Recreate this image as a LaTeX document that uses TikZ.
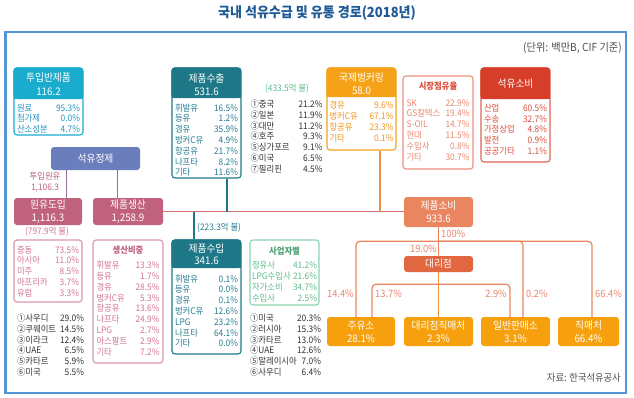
\documentclass[tikz,border=0pt]{standalone}
\usepackage{fontspec}
\setmainfont{Noto Sans CJK KR}[FakeStretch=0.93]
\usetikzlibrary{positioning}

\definecolor{framec}{RGB}{84,150,212}
\definecolor{titlec}{RGB}{30,90,150}
\definecolor{cyanc}{RGB}{25,172,206}
\definecolor{cyantx}{RGB}{35,150,195}
\definecolor{tealc}{RGB}{30,120,135}
\definecolor{tealtx}{RGB}{40,125,145}
\definecolor{orangec}{RGB}{245,162,25}
\definecolor{orangetx}{RGB}{240,150,30}
\definecolor{redc}{RGB}{214,62,42}
\definecolor{redbd}{RGB}{225,100,85}
\definecolor{redtx}{RGB}{220,80,60}
\definecolor{salmc}{RGB}{233,134,96}
\definecolor{salmbd}{RGB}{236,145,125}
\definecolor{salmtx}{RGB}{236,135,112}
\definecolor{daeric}{RGB}{226,102,64}
\definecolor{yelc}{RGB}{245,160,12}
\definecolor{slatec}{RGB}{106,126,190}
\definecolor{rosec}{RGB}{192,98,126}
\definecolor{rosebd}{RGB}{218,150,172}
\definecolor{rosetx}{RGB}{210,118,148}
\definecolor{mintbd}{RGB}{140,212,178}
\definecolor{minttx}{RGB}{95,188,140}
\definecolor{graytx}{RGB}{80,80,80}

\begin{document}
\begin{tikzpicture}[x=1pt,y=-1pt,
  hdrtxt/.style={text=white,font=\fontsize{10.5}{13.5}\selectfont,align=center,inner sep=0pt},
  itm/.style={font=\fontsize{9}{10.8}\selectfont,inner sep=0pt,align=left},
  ttl/.style={font=\bfseries\fontsize{9}{10}\selectfont,inner sep=0pt},
  pct/.style={font=\fontsize{10}{12}\selectfont,text=salmtx,inner sep=0pt},
  usd/.style={font=\fontsize{9}{10}\selectfont,inner sep=0pt},
  outbox/.style={rounded corners=3pt,line width=1.1pt,fill=white,inner sep=0pt},
  fillbox/.style={rounded corners=3pt,inner sep=0pt,text=white,align=center,
    font=\fontsize{10.5}{13}\selectfont},
  conn/.style={line width=1.2pt}]
\useasboundingbox (0,0) rectangle (634,397);
\fill[white] (0,0) rectangle (634,397);

\node[font=\bfseries\fontsize{14}{16}\selectfont,text=titlec] (title) at (317,13) {국내 석유수급 및 유통 경로(2018년)};
\draw[framec,line width=2.6pt] (5.5,32) rectangle (626,393);
\node[anchor=east,font=\fontsize{11}{13}\selectfont,text=graytx,inner sep=0pt] (unit) at (622,48) {(단위: 백만B, CIF 기준)};

% 투입반제품
\node[outbox,draw=cyanc,minimum width=69pt,minimum height=67pt] (bando) at (48.5,101.5) {};
\fill[cyanc,rounded corners=3pt] (bando.north west) rectangle (83,99);
\fill[cyanc] (14,90) rectangle (83,99);
\node[hdrtxt] (bandoT) at (48.5,84) {투입반제품\\116.2};
\node[itm,text=cyantx,text width=63pt] (bandoI) at (48.5,118.5) {원료\hfill 95.3\%\\첨가제\hfill 0.0\%\\산소성분\hfill 4.7\%};

% 제품수출
\node[outbox,draw=tealc,minimum width=69pt,minimum height=110pt] (suchul) at (206.5,123) {};
\fill[tealc,rounded corners=3pt] (suchul.north west) rectangle (241,98);
\fill[tealc] (172,90) rectangle (241,98);
\node[hdrtxt] (suchulT) at (206.5,84.5) {제품수출\\531.6};
\node[itm,text=tealtx,text width=63pt] (suchulI) at (206.5,140) {휘발유\hfill 16.5\%\\등유\hfill 1.2\%\\경유\hfill 35.9\%\\벙커C유\hfill 4.9\%\\항공유\hfill 21.7\%\\나프타\hfill 8.2\%\\기타\hfill 11.6\%};
\node[usd,text=minttx] (usd1) at (287,89) {(433.5억 불)};
\node[itm,text=black!80,text width=72pt] (suchulL) at (286.5,136.5) {①중국\hfill 21.2\%\\②일본\hfill 11.9\%\\③대만\hfill 11.2\%\\④호주\hfill 9.3\%\\⑤싱가포르\hfill 9.1\%\\⑥미국\hfill 6.5\%\\⑦필리핀\hfill 4.5\%};

% 국제벙커링
\node[outbox,draw=orangec,minimum width=69pt,minimum height=82pt] (bunker) at (361.5,109) {};
\fill[orangec,rounded corners=3pt] (bunker.north west) rectangle (396,97);
\fill[orangec] (327,89) rectangle (396,97);
\node[hdrtxt] (bunkerT) at (361.5,83.5) {국제벙커링\\58.0};
\node[itm,text=orangetx,text width=64pt] (bunkerI) at (361.5,121.5) {경유\hfill 9.6\%\\벙커C유\hfill 67.1\%\\항공유\hfill 23.3\%\\기타\hfill 0.1\%};

% 시장점유율
\node[outbox,draw=salmbd,minimum width=70pt,minimum height=93pt] (jumyu) at (438,122.5) {};
\node[ttl,text=redtx] (jumyuT) at (438,86) {시장점유율};
\node[itm,text=salmtx,text width=63pt] (jumyuI) at (438,130) {SK\hfill 22.9\%\\GS칼텍스\hfill 19.4\%\\S-OIL\hfill 14.7\%\\현대\hfill 11.5\%\\수입사\hfill 0.8\%\\기타\hfill 30.7\%};

% 석유소비
\node[outbox,draw=redbd,minimum width=69pt,minimum height=94pt] (sobiO) at (515.5,115) {};
\fill[redc,rounded corners=3pt] (sobiO.north west) rectangle (550,99);
\fill[redc] (481,90) rectangle (550,99);
\node[hdrtxt] (sobiOT) at (515.5,84) {석유소비};
\node[itm,text=redtx,text width=63pt] (sobiOI) at (515.5,129.5) {산업\hfill 60.5\%\\수송\hfill 32.7\%\\가정상업\hfill 4.8\%\\발전\hfill 0.9\%\\공공기타\hfill 1.1\%};

% 정제, 도입, 생산
\node[fillbox,fill=slatec,minimum width=89pt,minimum height=23pt] (jeongje) at (95.5,158.5) {석유정제};
\node[fillbox,fill=rosec,minimum width=68pt,minimum height=27pt] (wonyu) at (48,211.5) {원유도입\\1,116.3};
\node[fillbox,fill=rosec,minimum width=70pt,minimum height=27pt] (saengsan) at (128,211.5) {제품생산\\1,258.9};
\node[font=\fontsize{9}{11}\selectfont,text=rosec,align=center,inner sep=0pt] (tuip) at (45,182.5) {투입원유\\1,106.3};
\node[usd,text=rosetx] (usd3) at (47,232) {(797.9억 불)};

% 원유 도입처
\node[outbox,draw=rosebd,minimum width=68pt,minimum height=62pt] (wonsrc) at (48,271) {};
\node[itm,text=rosetx,text width=62pt] (wonsrcI) at (48,271.5) {중동\hfill 73.5\%\\아시아\hfill 11.0\%\\미주\hfill 8.5\%\\아프리카\hfill 3.7\%\\유럽\hfill 3.3\%};
\node[itm,text=black!80,text width=67pt] (wonsrcL) at (50.5,345) {①사우디\hfill 29.0\%\\②쿠웨이트\hfill 14.5\%\\③이라크\hfill 12.4\%\\④UAE\hfill 6.5\%\\⑤카타르\hfill 5.9\%\\⑥미국\hfill 5.5\%};

% 생산비중
\node[outbox,draw=rosebd,minimum width=70pt,minimum height=123pt] (bijung) at (128,301.5) {};
\node[ttl,text=rosec] (bijungT) at (128,250) {생산비중};
\node[itm,text=rosetx,text width=63pt] (bijungI) at (128,308.5) {휘발유\hfill 13.3\%\\등유\hfill 1.7\%\\경유\hfill 28.5\%\\벙커C유\hfill 5.3\%\\항공유\hfill 13.6\%\\나프타\hfill 24.9\%\\LPG\hfill 2.7\%\\아스팔트\hfill 2.9\%\\기타\hfill 7.2\%};

% 제품수입
\node[outbox,draw=tealc,minimum width=69pt,minimum height=114pt] (suip) at (206.5,297) {};
\fill[tealc,rounded corners=3pt] (suip.north west) rectangle (241,268);
\fill[tealc] (172,260) rectangle (241,268);
\node[hdrtxt,font=\fontsize{10.5}{12}\selectfont] (suipT) at (206.5,254) {제품수입\\341.6};
\node[itm,text=tealtx,text width=63pt] (suipI) at (206.5,311) {휘발유\hfill 0.1\%\\등유\hfill 0.0\%\\경유\hfill 0.1\%\\벙커C유\hfill 12.6\%\\LPG\hfill 23.2\%\\나프타\hfill 64.1\%\\기타\hfill 0.0\%};
\node[usd,text=tealtx,anchor=west] (usd2) at (197,228) {(223.3억 불)};

% 사업자별
\node[outbox,draw=mintbd,minimum width=69pt,minimum height=65pt] (saeop) at (284.5,272.5) {};
\node[ttl,text=minttx!85!black] (saeopT) at (284.5,251) {사업자별};
\node[itm,text=minttx,text width=65pt] (saeopI) at (284.5,281.5) {정유사\hfill 41.2\%\\LPG수입사\hfill 21.6\%\\자가소비\hfill 34.7\%\\수입사\hfill 2.5\%};
\node[itm,text=black!80,text width=71pt] (saeopL) at (285.5,345) {①미국\hfill 20.3\%\\②러시아\hfill 15.3\%\\③카타르\hfill 13.0\%\\④UAE\hfill 12.6\%\\⑤말레이시아\hfill 7.0\%\\⑥사우디\hfill 6.4\%};

% 소비, 대리점, 판매처
\node[fillbox,fill=salmc,minimum width=69pt,minimum height=30pt] (sobi) at (438.5,212) {제품소비\\933.6};
\node[fillbox,fill=daeric,minimum width=69pt,minimum height=16pt] (daeri) at (438.5,264) {대리점};
\node[fillbox,fill=yelc,minimum width=68pt,minimum height=29pt] (jyuso) at (361,331.5) {주유소\\28.1\%};
\node[fillbox,fill=yelc,minimum width=69pt,minimum height=29pt] (daerijik) at (438.5,331.5) {대리점직매처\\2.3\%};
\node[fillbox,fill=yelc,minimum width=69pt,minimum height=29pt] (ilban) at (515.5,331.5) {일반판매소\\3.1\%};
\node[fillbox,fill=yelc,minimum width=61pt,minimum height=29pt] (jikmae) at (588.5,331.5) {직매처\\66.4\%};

% connectors
\coordinate (jdl) at ([xshift=16pt]jeongje.south west);
\coordinate (jdr) at ([xshift=67pt]jeongje.south west);
\coordinate (exd) at ([xshift=20.5pt]suchul.south);
\coordinate (imd) at ([xshift=-12.5pt]suip.north);
\coordinate (bkd) at ([xshift=18.5pt]bunker.south);
\draw[conn,slatec!45!rosec] (jdl) -- (jdl |- wonyu.north);
\draw[conn,slatec!45!rosec] (jdr) -- (jdr |- saengsan.north);
\draw[conn,rosec!60!salmc] (saengsan.east) -- (saengsan.east -| sobi.west);
\draw[conn,tealc] (exd) -- (exd |- saengsan.east);
\draw[conn,tealc] (imd |- saengsan.east) -- (imd);
\draw[conn,salmc!70!orangec] (bkd) -- (bkd |- saengsan.east);

\coordinate (busA) at ([yshift=-14pt]sobi.south);
\coordinate (busB) at ([yshift=-12pt]daeri.south);
\coordinate (dJ) at ([xshift=-5pt]jyuso.north);
\coordinate (dJ2) at ([xshift=11pt]jyuso.north);
\coordinate (dI) at ([xshift=7.5pt]ilban.north);
\coordinate (dI2) at ([xshift=-5.5pt]ilban.north);
\coordinate (dK) at ([xshift=3.5pt]jikmae.north);
\draw[conn,salmc] (sobi.south) -- (daeri.north);
\draw[conn,salmc,rounded corners=4pt] (dJ) |- (busA) -| (dK);
\draw[conn,salmc,rounded corners=4pt] (busA) -| (dI);
\draw[conn,salmc,rounded corners=4pt] (dJ2) |- (busB) -| (dI2);
\draw[conn,salmc!60!yelc] (daeri.south) -- (daerijik.north);

\node[pct,anchor=west] (p100) at (441,234) {100\%};
\node[pct,anchor=east] (p19) at (437,249) {19.0\%};
\node[pct,anchor=east] (p144) at (354,294) {14.4\%};
\node[pct,anchor=west] (p137) at (375,294) {13.7\%};
\node[pct,anchor=east] (p29) at (507,294) {2.9\%};
\node[pct,anchor=west] (p02) at (526,294) {0.2\%};
\node[pct,anchor=west] (p664) at (595,294) {66.4\%};

\node[anchor=east,font=\fontsize{10}{12}\selectfont,text=graytx,inner sep=0pt] (src) at (621,378) {자료: 한국석유공사};
\end{tikzpicture}
\end{document}
